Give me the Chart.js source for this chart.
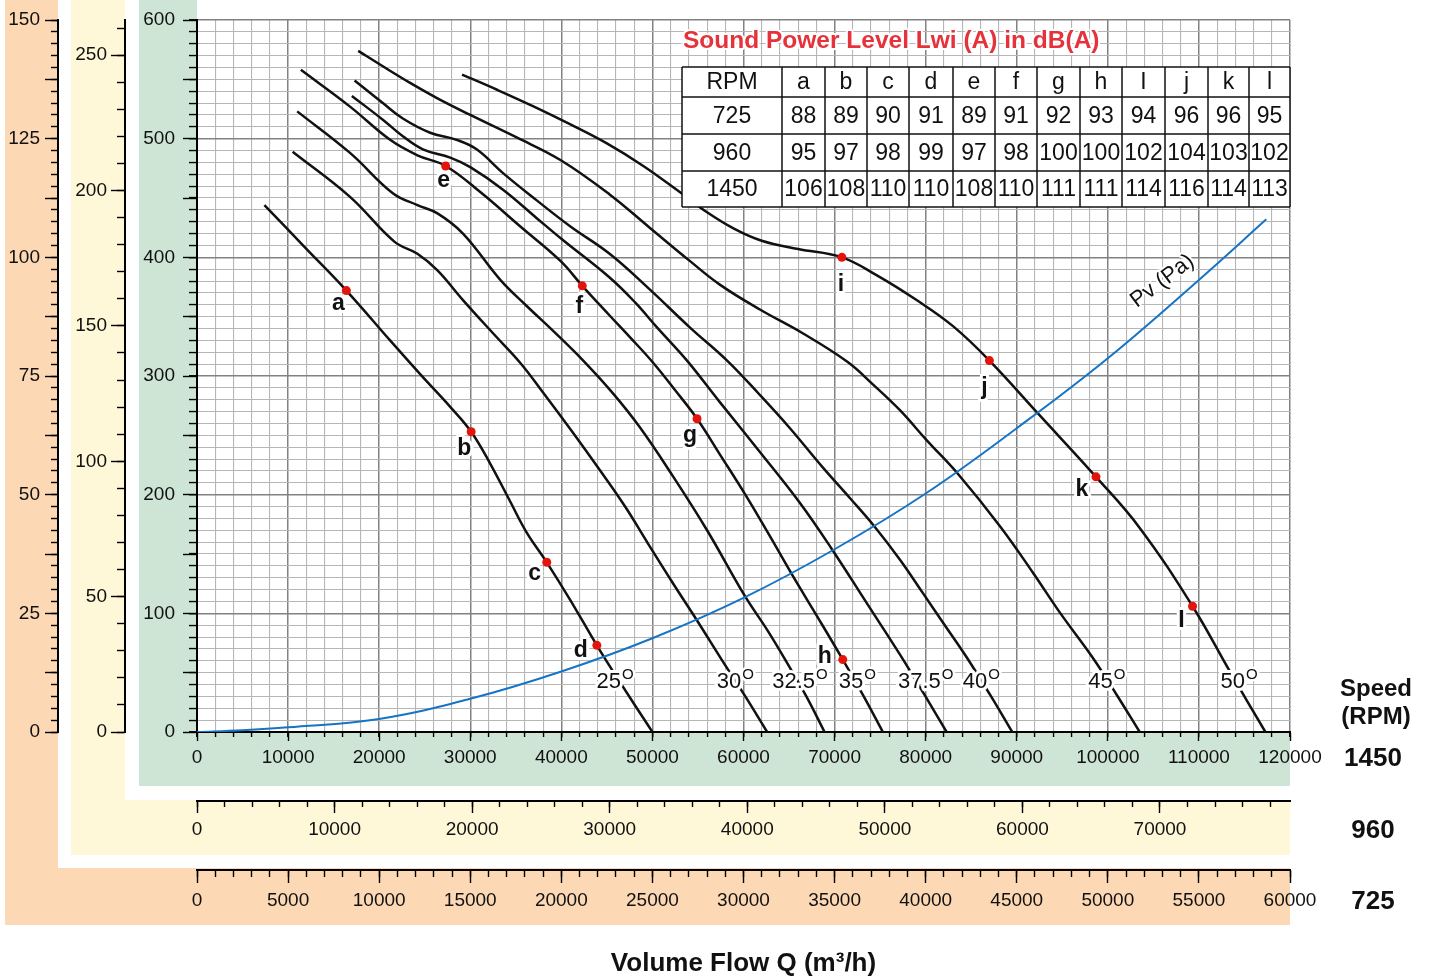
<!DOCTYPE html>
<html><head><meta charset="utf-8">
<script src="https://cdn.jsdelivr.net/npm/chart.js@4.4.1/dist/chart.umd.min.js"></script>
<style>html,body{margin:0;padding:0;background:#fff;}#wrap{width:1430px;height:976px;}</style>
</head><body><div id="wrap"><canvas id="c" width="1430" height="976"></canvas></div>
<script>
// ---- Data (Q in m3/h at 1450 RPM, P in Pa at 1450 RPM) ----
const curve25  = [[7400,444],[11900,408],[16400,372],[21200,330],[24800,299],[27800,274],[30100,253],[32200,226],[34400,194],[36200,168],[38400,143],[41000,111],[43900,73],[46100,46],[50000,0]];
const curve30  = [[10500,489],[16800,451],[21700,413],[24200,403],[26400,389],[29200,364],[32500,336],[35500,311],[38200,284],[41200,253],[44200,221],[47000,190],[49500,159],[52200,126],[54900,94],[57600,61],[60200,30],[62600,0]];
const curve325 = [[11000,523],[16800,488],[21500,454],[24200,444],[26400,437],[29200,420],[33300,381],[36200,359],[39100,338],[42400,313],[45600,286],[48600,257],[52300,215],[56000,170],[60200,114],[62600,86],[64800,58],[66900,30],[68900,0]];
const curve35  = [[11400,558],[16800,527],[21200,499],[24200,486],[27300,477],[31100,455],[35500,426],[39900,397],[42300,376],[45300,351],[47500,333],[50100,311],[52500,288],[54900,264],[57400,234],[60200,200],[62900,165],[65300,133],[68200,96],[70900,61],[73200,30],[75300,0]];
const curve375 = [[17000,536],[20400,516],[22600,502],[24800,491],[27800,484],[30000,476],[33600,457],[37300,433],[40100,415],[45300,383],[48100,362],[50500,341],[53800,313],[57400,278],[61800,236],[66200,193],[69800,153],[73500,109],[77200,65],[79900,31],[82300,0]];
const curve40  = [[17300,549],[20400,530],[22600,517],[25600,505],[28500,499],[30700,491],[33600,471],[37300,448],[41000,426],[45300,403],[49700,373],[54100,341],[58200,313],[61800,284],[65100,256],[68700,223],[71700,197],[74400,173],[77200,145],[79700,117],[82100,90],[84500,63],[87100,31],[89500,0]];
const curve45  = [[17700,574],[20400,561],[23400,547],[26400,534],[30000,520],[35100,501],[39900,482],[45300,453],[49700,425],[54100,397],[57400,377],[61800,356],[66500,336],[71400,312],[74200,293],[77200,271],[80100,246],[83600,217],[88200,173],[91800,134],[94700,101],[98400,62],[101000,31],[103500,0]];
const curve50  = [[29100,554],[33000,541],[37000,527],[41000,512],[45000,496],[49000,477],[53000,455],[56000,438],[59000,424],[62000,414],[66000,407],[70800,400],[74600,385],[79000,364],[83000,342],[87000,313],[92500,267],[98700,215],[103500,172],[109300,106],[113400,51],[117300,0]];
const pvCurve  = [[0,0],[5000,1.5],[10000,4],[20000,11],[30000,28],[40000,51],[50000,79],[60000,113],[70000,154],[80000,201],[90000,256],[100000,315],[110000,381],[117400,432]];

const angleNames = ['25','30','32.5','35','37.5','40','45','50'];
const angleLabelQ = [45900,59100,66200,72500,80000,86100,99900,114400];
const angleLabelP = [42,42,42,42,42,42,42,42];

const pointNames = ['a','b','c','d','e','f','g','h','i','j','k','l'];
const pointQ = [16400,30100,38400,43900,27300,42300,54900,70900,70800,87000,98700,109300];
const pointP = [372,253,143,73,477,376,264,61,400,313,215,106];

const tableHead = ['RPM','a','b','c','d','e','f','g','h','I','j','k','l'];
const rpmRows = ['725','960','1450'];
const lw725  = [88,89,90,91,89,91,92,93,94,96,96,95];
const lw960  = [95,97,98,99,97,98,100,100,102,104,103,102];
const lw1450 = [106,108,110,110,108,110,111,111,114,116,114,113];

const qMax1450 = 120000, qMax960 = 79450, qMax725 = 60000;
const pMax1450 = 600, pMax960 = 263, pMax725 = 150;

// ---- Styles ----
const FONT = "'Liberation Sans', Arial, sans-serif";
const tickFont = {family: FONT, size: 19};
const pointLabelOffsets = [[-8,13],[-7,17],[-12,11],[-16,5],[-2,15],[-3,21],[-7,17],[-18,-3],[-1,27],[-5,27],[-14,13],[-11,14]];
const gridMinor = '#b6b6b6', gridMajor = '#828282';

const fixW = w => s => { s.width = w; };
const fixH = h => s => { s.height = h; };
const stepTicks = (max, step) => s => {
  const t = [];
  for (let i = 0; i * step <= max + 1e-9; i++) t.push({value: Math.round(i * step * 1000) / 1000});
  s.ticks = t;
};

function leftAxis(max, step, tl, pad, labelEvery, w, weight, border) {
  return { type:'linear', position:'left', weight, min:0, max,
    ticks:{ stepSize: step, autoSkip:false, display: labelEvery>0, padding: pad, font: tickFont, color:'#111',
      callback: v => (labelEvery>0 && Math.abs(v % labelEvery) < 1e-6) ? String(v) : '' },
    grid:{ drawOnChartArea:false, tickLength: tl, tickColor:'#000', tickWidth:1.4 },
    border:{ display: border, color:'#000', width:2 },
    afterBuildTicks: stepTicks(max, step),
    afterFit: fixW(w) };
}
function bottomAxis(max, step, tl, pad, showLabels, h, weight, border) {
  return { type:'linear', position:'bottom', weight, min:0, max,
    ticks:{ stepSize: step, autoSkip:false, display: showLabels, maxRotation:0, minRotation:0, padding: pad, font: tickFont, color:'#111',
      callback: v => String(v) },
    grid:{ drawOnChartArea:false, tickLength: tl, tickColor:'#000', tickWidth:1.4 },
    border:{ display: border, color:'#000', width:2 },
    afterBuildTicks: stepTicks(max, step),
    afterFit: fixH(h) };
}

const scales = {
  x: bottomAxis(qMax1450, 10000, 9, 5, true, 69, 1, true),
  xm: bottomAxis(qMax1450, 2000, 5, 0, false, 0, 0, false),
  x960m: bottomAxis(qMax960, 2000, 6, 0, false, 0, 2, false),
  x960: bottomAxis(qMax960, 10000, 12, 5, true, 69, 3, true),
  x725m: bottomAxis(qMax725, 1000, 7, 0, false, 0, 4, false),
  x725: bottomAxis(qMax725, 5000, 13, 6, true, 106, 5, true),
  y: leftAxis(pMax1450, 50, 14, 8, 100, 72, 2, true),
  ym: leftAxis(pMax1450, 10, 8, 0, 0, 0, 1, false),
  y725: leftAxis(pMax725, 12.5, 13, 5, 25, 58, 6, true),
  y725m: leftAxis(pMax725, 2.5, 7, 0, 0, 0, 5, false),
  y960: leftAxis(pMax960, 50, 14, 4, 50, 67, 4, true),
  y960m: leftAxis(pMax960, 10, 8, 0, 0, 0, 3, false)
};
scales.xm.grid.drawOnChartArea = true;
scales.xm.grid.color = c => (c.tick && c.tick.value % 10000 === 0) ? gridMajor : gridMinor;
scales.xm.grid.lineWidth = c => (c.tick && c.tick.value % 10000 === 0) ? 1.5 : 1.1;
scales.ym.grid.drawOnChartArea = true;
scales.ym.grid.color = c => (c.tick && c.tick.value % 100 === 0) ? gridMajor : gridMinor;
scales.ym.grid.lineWidth = c => (c.tick && c.tick.value % 100 === 0) ? 1.5 : 1.1;
scales.x725.title = { display:true, text:'Volume Flow Q (m³/h)', font:{family:FONT, size:26, weight:'bold'}, color:'#111', padding:{top:0,bottom:-3} };

const toXY = a => a.map(([x,y]) => ({x, y}));
const curves = [curve25, curve30, curve325, curve35, curve375, curve40, curve45, curve50];

const datasets = [
  { data: pointQ.map((q,i) => ({x:q, y:pointP[i]})), xAxisID:'x', yAxisID:'y', showLine:false, pointRadius:4.5, pointBackgroundColor:'#e3140c', pointBorderWidth:0, order:0 },
  { data: toXY(pvCurve), xAxisID:'x', yAxisID:'y', borderColor:'#1674c6', borderWidth:2, pointRadius:0, tension:0.4, fill:false, order:1 },
  ...curves.map(c => ({ data: toXY(c), xAxisID:'x', yAxisID:'y', borderColor:'#111', borderWidth:2.5, pointRadius:0, tension:0.4, fill:false, order:2 }))
];

function haloText(ctx, txt, x, y, font, color, halo, align) {
  ctx.font = font; ctx.textAlign = align || 'center'; ctx.textBaseline = 'middle';
  if (halo) { ctx.lineJoin = 'round'; ctx.strokeStyle = '#fff'; ctx.lineWidth = halo; ctx.strokeText(txt, x, y); }
  ctx.fillStyle = color; ctx.fillText(txt, x, y);
}

const panels = {
  id:'panels',
  beforeDraw(chart) {
    const ctx = chart.ctx, ca = chart.chartArea;
    ctx.save();
    ctx.fillStyle = '#fff'; ctx.fillRect(0, 0, 1430, 976);
    ctx.fillStyle = '#fdd8b5'; ctx.fillRect(5, 0, ca.right - 5, 925);
    ctx.fillStyle = '#fff'; ctx.fillRect(58, 0, ca.right - 58, 868);
    ctx.fillStyle = '#fff8d8'; ctx.fillRect(71, 0, ca.right - 71, 855);
    ctx.fillStyle = '#fff'; ctx.fillRect(125, 0, ca.right - 125, 800);
    ctx.fillStyle = '#cee5d6'; ctx.fillRect(139, 0, ca.right - 139, 786);
    ctx.fillStyle = '#fff'; ctx.fillRect(ca.left, 0, ca.right - ca.left, ca.bottom);
    ctx.restore();
  }
};

const annotations = {
  id:'annot',
  afterDatasetsDraw(chart) {
    const ctx = chart.ctx, xs = chart.scales.x, ys = chart.scales.y;
    ctx.save();
    angleNames.forEach((n, i) => {
      const cx = xs.getPixelForValue(angleLabelQ[i]), cy = ys.getPixelForValue(angleLabelP[i]);
      ctx.font = `22px ${FONT}`; const w1 = ctx.measureText(n).width;
      ctx.font = `15px ${FONT}`; const w2 = ctx.measureText('O').width;
      const x0 = cx - (w1 + w2 + 1) / 2;
      haloText(ctx, n, x0, cy, `22px ${FONT}`, '#111', 6, 'left');
      haloText(ctx, 'O', x0 + w1 + 1, cy - 7, `15px ${FONT}`, '#111', 5, 'left');
    });
    pointNames.forEach((n, i) => {
      const px = xs.getPixelForValue(pointQ[i]) + pointLabelOffsets[i][0];
      const py = ys.getPixelForValue(pointP[i]) + pointLabelOffsets[i][1];
      haloText(ctx, n === 'l' ? 'I' : n, px, py, `bold 23px ${FONT}`, '#111', 6);
    });
    ctx.save();
    ctx.translate(xs.getPixelForValue(106000), ys.getPixelForValue(380));
    ctx.rotate(-37 * Math.PI / 180);
    haloText(ctx, 'Pv (Pa)', 0, 0, `22px ${FONT}`, '#111', 4);
    ctx.restore();
    ctx.restore();
  },
  afterDraw(chart) {
    const ctx = chart.ctx;
    ctx.save();
    haloText(ctx, 'Sound Power Level Lwi (A) in dB(A)', 683, 41, `bold 24.5px ${FONT}`, '#e5323b', 4, 'left');
    const cols = [682, 782, 825, 867, 909, 953, 995, 1037, 1080, 1122, 1165, 1208, 1249, 1290];
    const rows = [67, 97, 134, 171, 207];
    ctx.fillStyle = '#fff';
    ctx.fillRect(cols[0], rows[0], cols[cols.length-1] - cols[0], rows[rows.length-1] - rows[0]);
    ctx.strokeStyle = '#111'; ctx.lineWidth = 1.5;
    cols.forEach(c => { ctx.beginPath(); ctx.moveTo(c, rows[0]); ctx.lineTo(c, rows[rows.length-1]); ctx.stroke(); });
    rows.forEach(r => { ctx.beginPath(); ctx.moveTo(cols[0], r); ctx.lineTo(cols[cols.length-1], r); ctx.stroke(); });
    const rowVals = [lw725, lw960, lw1450];
    const cellText = (t, ci, ri) => haloText(ctx, String(t), (cols[ci] + cols[ci+1]) / 2, (rows[ri] + rows[ri+1]) / 2 + 1, `23px ${FONT}`, '#111', 0);
    tableHead.forEach((h, ci) => cellText(h, ci, 0));
    rpmRows.forEach((r, ri) => {
      cellText(r, 0, ri + 1);
      rowVals[ri].forEach((v, vi) => cellText(v, vi + 1, ri + 1));
    });
    haloText(ctx, 'Speed', 1376, 689, `bold 24px ${FONT}`, '#111', 0);
    haloText(ctx, '(RPM)', 1376, 717, `bold 24px ${FONT}`, '#111', 0);
    haloText(ctx, '1450', 1373, 759, `bold 26px ${FONT}`, '#111', 0);
    haloText(ctx, '960', 1373, 831, `bold 26px ${FONT}`, '#111', 0);
    haloText(ctx, '725', 1373, 902, `bold 26px ${FONT}`, '#111', 0);
    ctx.restore();
  }
};

new Chart(document.getElementById('c'), {
  type: 'line',
  data: { datasets },
  options: {
    responsive:false, animation:false, devicePixelRatio:1,
    layout:{ padding:{ left:0, right:140, top:20, bottom:0 } },
    plugins:{ legend:{display:false}, tooltip:{enabled:false} },
    scales
  },
  plugins:[panels, annotations]
});
</script></body></html>
